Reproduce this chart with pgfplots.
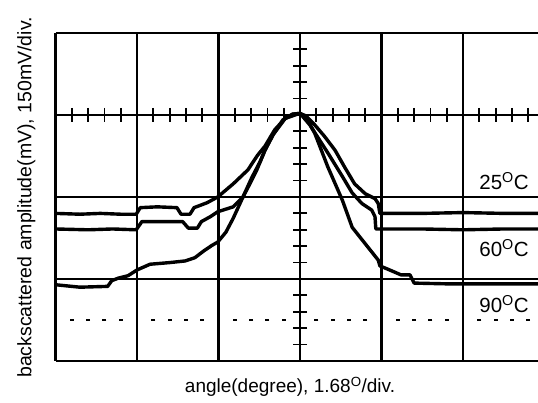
\documentclass[border=0pt]{standalone}
\usepackage{pgfplots}
\pgfplotsset{compat=1.18}
\usepackage{fontspec}
\setmainfont{Liberation Sans}
\begin{document}
\begin{tikzpicture}[x=1pt,y=1pt]
\path[use as bounding box] (0,0) rectangle (538,403);
\begin{axis}[
  at={(55.5pt,42pt)}, anchor=south west,
  scale only axis, width=482.5pt, height=328pt,
  xmin=-3, xmax=2.92, ymin=0, ymax=4,
  axis x line=none, axis y line=none,
  xtick=\empty, ytick=\empty,
  clip=false,
]
% division lines
\addplot[black, line width=2.4pt] coordinates {(-3,0) (-3,4)};
\addplot[black, line width=2.4pt] coordinates {(-2,0) (-2,4)};
\addplot[black, line width=2.4pt] coordinates {(-1,0) (-1,4)};
\addplot[black, line width=2.4pt] coordinates {(1,0) (1,4)};
\addplot[black, line width=2.4pt] coordinates {(2,0) (2,4)};
\addplot[black, line width=2.8pt] coordinates {(0,0) (0,4)};
\addplot[black, line width=2.2pt] coordinates {(-3,4) (2.92,4)};
\addplot[black, line width=2.2pt] coordinates {(-3,3) (2.92,3)};
\addplot[black, line width=1.1pt] coordinates {(-3,2) (2.92,2)};
\addplot[black, line width=1.1pt] coordinates {(-3,1) (2.92,1)};
\addplot[black, line width=1.6pt] coordinates {(-3,0) (2.92,0)};
% small division ticks on the centre lines
\addplot[only marks, mark=|, mark size=7pt, mark options={line width=1.8pt}] coordinates {
(-2.8,3)(-2.6,3)(-2.4,3)(-2.2,3)(-1.8,3)(-1.6,3)(-1.4,3)(-1.2,3)
(-0.8,3)(-0.6,3)(-0.4,3)(-0.2,3)(0.2,3)(0.4,3)(0.6,3)(0.8,3)
(1.2,3)(1.4,3)(1.6,3)(1.8,3)(2.2,3)(2.4,3)(2.6,3)(2.8,3)};
\addplot[only marks, mark=-, mark size=7pt, mark options={line width=1.8pt}] coordinates {
(0,0.2)(0,0.4)(0,0.6)(0,0.8)(0,1.2)(0,1.4)(0,1.6)(0,1.8)
(0,2.2)(0,2.4)(0,2.6)(0,2.8)(0,3.2)(0,3.4)(0,3.6)(0,3.8)};
% dotted reference level
\addplot[only marks, mark=-, mark size=2pt, mark options={line width=1.4pt}] coordinates {
(-2.8,0.5)(-2.6,0.5)(-2.4,0.5)(-2.2,0.5)(-1.8,0.5)(-1.6,0.5)(-1.4,0.5)(-1.2,0.5)
(-0.8,0.5)(-0.6,0.5)(-0.4,0.5)(-0.2,0.5)(0.2,0.5)(0.4,0.5)(0.6,0.5)(0.8,0.5)
(1.2,0.5)(1.4,0.5)(1.6,0.5)(1.8,0.5)(2.2,0.5)(2.4,0.5)(2.6,0.5)(2.8,0.5)};
% 25 C
\addplot[black, line width=3.4pt, line join=round] coordinates {
(-3.0,1.80)(-2.7,1.79)(-2.45,1.80)(-2.2,1.79)(-2.01,1.79)(-1.96,1.87)(-1.75,1.88)(-1.51,1.87)
(-1.46,1.79)(-1.35,1.79)(-1.30,1.87)(-1.14,1.93)(-1.01,2.00)(-0.82,2.16)
(-0.64,2.33)(-0.52,2.51)(-0.43,2.62)(-0.31,2.82)(-0.18,2.96)(-0.09,3.01)
(0,3.02)(0.07,2.99)(0.18,2.88)(0.30,2.74)(0.43,2.57)(0.55,2.36)(0.67,2.16)
(0.80,2.04)(0.92,1.98)(0.96,1.92)(0.98,1.80)(1.5,1.80)(2.0,1.81)(2.5,1.80)(2.92,1.80)};
% 60 C
\addplot[black, line width=3.4pt, line join=round] coordinates {
(-3.0,1.61)(-2.6,1.60)(-2.3,1.61)(-2.01,1.60)(-1.94,1.70)(-1.7,1.70)(-1.44,1.70)(-1.37,1.62)
(-1.26,1.62)(-1.21,1.70)(-1.10,1.76)(-1.01,1.82)(-0.82,1.88)(-0.70,2.00)
(-0.61,2.17)(-0.53,2.33)(-0.43,2.57)(-0.33,2.76)(-0.21,2.94)(-0.09,3.01)
(0,3.02)(0.12,2.88)(0.34,2.54)(0.52,2.25)(0.64,2.05)(0.76,1.92)(0.88,1.84)
(0.92,1.76)(0.93,1.61)(1.5,1.61)(2.0,1.60)(2.5,1.61)(2.92,1.61)};
% 90 C
\addplot[black, line width=3.4pt, line join=round] coordinates {
(-3.0,0.93)(-2.70,0.90)(-2.36,0.91)(-2.31,0.98)(-2.23,1.01)(-2.11,1.04)(-2.00,1.11)
(-1.84,1.18)(-1.60,1.20)(-1.41,1.22)(-1.29,1.26)(-1.17,1.35)(-1.08,1.41)(-1.01,1.45)
(-0.91,1.57)(-0.82,1.74)(-0.70,2.00)(-0.59,2.24)(-0.49,2.43)(-0.43,2.57)(-0.33,2.76)
(-0.18,2.96)(0,3.02)(0.09,2.94)(0.18,2.78)(0.34,2.37)(0.52,1.96)(0.64,1.63)
(0.76,1.48)(0.88,1.33)(0.96,1.23)(0.98,1.16)(1.10,1.11)(1.24,1.05)(1.35,1.05)
(1.40,0.95)(1.84,0.94)(2.3,0.94)(2.92,0.94)};
\end{axis}
\node[anchor=base, font=\fontsize{19}{22}\selectfont] at (290,10) {angle(degree), 1.68\textsuperscript{O}/div.};
\node[rotate=90, anchor=base, font=\fontsize{19.5}{22}\selectfont] at (31.5,205.5) {backscattered amplitude(mV), 150mV/div.};
\node[anchor=base, font=\fontsize{20.5}{22}\selectfont] at (504,213) {25\textsuperscript{O}C};
\node[anchor=base, font=\fontsize{20.5}{22}\selectfont] at (504,146) {60\textsuperscript{O}C};
\node[anchor=base, font=\fontsize{20.5}{22}\selectfont] at (504,90) {90\textsuperscript{O}C};
\end{tikzpicture}
\end{document}
